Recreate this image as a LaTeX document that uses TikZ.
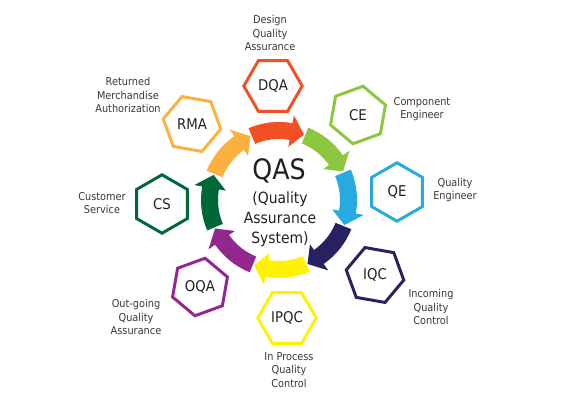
\documentclass[tikz,border=0pt]{standalone}
\usepackage{fontspec}
\setmainfont{DejaVu Sans}[FakeStretch=0.9]
\usepackage{tikz}
\usetikzlibrary{shapes.geometric,positioning}
\definecolor{qred}{RGB}{240,80,35}
\definecolor{qlime}{RGB}{141,198,63}
\definecolor{qsky}{RGB}{39,170,225}
\definecolor{qnavy}{RGB}{38,34,98}
\definecolor{qyellow}{RGB}{255,242,0}
\definecolor{qpurple}{RGB}{146,39,143}
\definecolor{qforest}{RGB}{0,104,56}
\definecolor{qorange}{RGB}{251,176,64}
\definecolor{qtext}{RGB}{35,31,32}
\definecolor{qgray}{RGB}{55,55,55}
\newcommand{\ringarrow}[2]{%
  \fill[#1] (#2:78) arc[start angle=#2, end angle=#2-33, radius=78]
    -- (#2-33:86) -- (#2-44:70) -- (#2-33:54) -- (#2-33:61)
    arc[start angle=#2-33, end angle=#2, radius=61] -- cycle;}
\tikzset{
  hexa/.style={regular polygon, regular polygon sides=6, draw=#1, line width=2.1pt,
               minimum size=1.46cm, inner sep=0pt, text=qtext,
               font=\fontsize{10.5}{12}\selectfont},
  desc/.style={align=center, text=qgray, font=\fontsize{7.7}{9.6}\selectfont},
  bigtitle/.style={text=qtext, font=\fontsize{20}{24}\selectfont},
  subtitle/.style={align=center, text=qtext, font=\fontsize{11}{14.2}\selectfont},
}

\begin{document}
\begin{tikzpicture}[x=0.025cm, y=0.025cm]
    \useasboundingbox (0,0) rectangle (570,400);
    \begin{scope}[shift={(279,200)}]
      \ringarrow{qred}{113}
      \ringarrow{qlime}{68}
      \ringarrow{qsky}{23}
      \ringarrow{qnavy}{-22}
      \ringarrow{qyellow}{-67}
      \ringarrow{qpurple}{-112}
      \ringarrow{qforest}{-157}
      \ringarrow{qorange}{-202}
    \end{scope}
    \node[bigtitle] (qas) at (279,229) {QAS};
    \node[subtitle] (qasfull) at (280,181) {(Quality\\Assurance\\System)};

    \node[hexa=qred] (dqa) at (273,314) {DQA};
    \node[hexa=qlime, shape border rotate=20] (ce) at (358,285) {CE};
    \node[hexa=qsky, shape border rotate=30] (qe) at (397,208) {QE};
    \node[hexa=qnavy, shape border rotate=50] (iqc) at (375,125) {IQC};
    \node[hexa=qyellow] (ipqc) at (287,82) {IPQC};
    \node[hexa=qpurple, shape border rotate=20] (oqa) at (200,113) {OQA};
    \node[hexa=qforest, shape border rotate=30] (cs) at (162,196) {CS};
    \node[hexa=qorange, shape border rotate=50] (rma) at (192,276) {RMA};

    \node[desc] (dqatxt) at (270,367) {Design\\Quality\\Assurance};
    \node[desc] (cetxt) at (422,291) {Component\\Engineer};
    \node[desc] (qetxt) at (455,210) {Quality\\Engineer};
    \node[desc] (iqctxt) at (431,93) {Incoming\\Quality\\Control};
    \node[desc] (ipqctxt) at (289,30) {In Process\\Quality\\Control};
    \node[desc] (oqatxt) at (136,83) {Out-going\\Quality\\Assurance};
    \node[desc] (cstxt) at (102,197) {Customer\\Service};
    \node[desc] (rmatxt) at (128,305) {Returned\\Merchandise\\Authorization};
\end{tikzpicture}
\end{document}
